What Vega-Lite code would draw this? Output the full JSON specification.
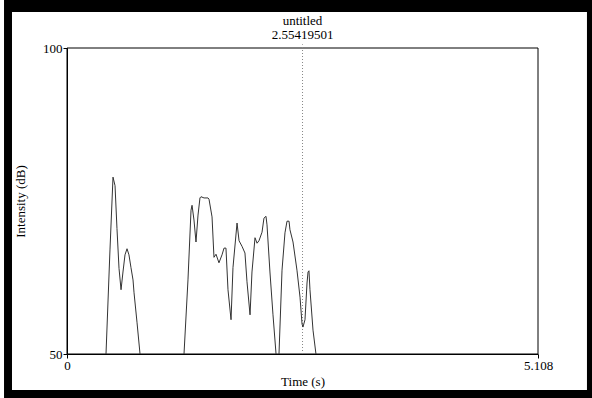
{
  "$schema": "https://vega.github.io/schema/vega-lite/v6.json",
  "width": 471,
  "height": 306,
  "autosize": "none",
  "padding": {"left": 67, "top": 48, "right": 54, "bottom": 44},
  "background": "white",
  "config": {
    "view": {"stroke": null},
    "axis": {
      "zindex": 1,
      "labelFont": "Liberation Serif",
      "labelFontSize": 13,
      "labelColor": "black",
      "labelFlush": false,
      "titleFont": "Liberation Serif",
      "titleFontSize": 13,
      "titleFontWeight": "normal",
      "titleColor": "black",
      "domainColor": "black",
      "tickColor": "black",
      "tickSize": 4,
      "labelPadding": 1,
      "grid": false
    }
  },
  "datasets": {
    "intensity": [
      {"seg": 1, "t": 0.423, "db": 50.0},
      {"seg": 1, "t": 0.466, "db": 67.0},
      {"seg": 1, "t": 0.499, "db": 78.9},
      {"seg": 1, "t": 0.521, "db": 77.5},
      {"seg": 1, "t": 0.542, "db": 70.5},
      {"seg": 1, "t": 0.564, "db": 64.0},
      {"seg": 1, "t": 0.586, "db": 60.5},
      {"seg": 1, "t": 0.607, "db": 63.4},
      {"seg": 1, "t": 0.629, "db": 66.2},
      {"seg": 1, "t": 0.651, "db": 67.2},
      {"seg": 1, "t": 0.672, "db": 66.2},
      {"seg": 1, "t": 0.694, "db": 64.1},
      {"seg": 1, "t": 0.716, "db": 62.1},
      {"seg": 1, "t": 0.727, "db": 60.0},
      {"seg": 1, "t": 0.759, "db": 55.2},
      {"seg": 1, "t": 0.792, "db": 50.0},
      {"seg": 2, "t": 1.269, "db": 50.0},
      {"seg": 2, "t": 1.312, "db": 62.1},
      {"seg": 2, "t": 1.345, "db": 73.5},
      {"seg": 2, "t": 1.356, "db": 74.3},
      {"seg": 2, "t": 1.377, "db": 71.9},
      {"seg": 2, "t": 1.399, "db": 68.3},
      {"seg": 2, "t": 1.421, "db": 72.7},
      {"seg": 2, "t": 1.442, "db": 75.5},
      {"seg": 2, "t": 1.453, "db": 75.7},
      {"seg": 2, "t": 1.486, "db": 75.5},
      {"seg": 2, "t": 1.529, "db": 75.5},
      {"seg": 2, "t": 1.540, "db": 75.3},
      {"seg": 2, "t": 1.573, "db": 72.4},
      {"seg": 2, "t": 1.594, "db": 65.8},
      {"seg": 2, "t": 1.616, "db": 66.3},
      {"seg": 2, "t": 1.648, "db": 64.9},
      {"seg": 2, "t": 1.681, "db": 66.2},
      {"seg": 2, "t": 1.703, "db": 67.3},
      {"seg": 2, "t": 1.724, "db": 67.3},
      {"seg": 2, "t": 1.746, "db": 60.5},
      {"seg": 2, "t": 1.779, "db": 55.6},
      {"seg": 2, "t": 1.800, "db": 64.1},
      {"seg": 2, "t": 1.844, "db": 71.4},
      {"seg": 2, "t": 1.866, "db": 68.5},
      {"seg": 2, "t": 1.898, "db": 67.6},
      {"seg": 2, "t": 1.930, "db": 66.5},
      {"seg": 2, "t": 1.952, "db": 61.8},
      {"seg": 2, "t": 1.985, "db": 56.4},
      {"seg": 2, "t": 2.006, "db": 63.4},
      {"seg": 2, "t": 2.039, "db": 69.0},
      {"seg": 2, "t": 2.061, "db": 68.1},
      {"seg": 2, "t": 2.082, "db": 68.5},
      {"seg": 2, "t": 2.115, "db": 69.9},
      {"seg": 2, "t": 2.136, "db": 72.2},
      {"seg": 2, "t": 2.158, "db": 72.5},
      {"seg": 2, "t": 2.169, "db": 71.1},
      {"seg": 2, "t": 2.201, "db": 63.4},
      {"seg": 2, "t": 2.234, "db": 56.4},
      {"seg": 2, "t": 2.267, "db": 50.0},
      {"seg": 3, "t": 2.299, "db": 50.0},
      {"seg": 3, "t": 2.332, "db": 63.7},
      {"seg": 3, "t": 2.364, "db": 69.8},
      {"seg": 3, "t": 2.386, "db": 71.7},
      {"seg": 3, "t": 2.408, "db": 71.7},
      {"seg": 3, "t": 2.418, "db": 70.3},
      {"seg": 3, "t": 2.451, "db": 68.3},
      {"seg": 3, "t": 2.494, "db": 63.7},
      {"seg": 3, "t": 2.527, "db": 59.3},
      {"seg": 3, "t": 2.549, "db": 54.9},
      {"seg": 3, "t": 2.559, "db": 54.4},
      {"seg": 3, "t": 2.581, "db": 55.6},
      {"seg": 3, "t": 2.603, "db": 61.6},
      {"seg": 3, "t": 2.614, "db": 63.4},
      {"seg": 3, "t": 2.624, "db": 63.6},
      {"seg": 3, "t": 2.635, "db": 60.5},
      {"seg": 3, "t": 2.668, "db": 53.9},
      {"seg": 3, "t": 2.700, "db": 50.0}
    ],
    "titles": [
      {"label": "untitled", "t": 2.554, "db": 103.76},
      {"label": "2.55419501", "t": 2.554, "db": 101.47}
    ]
  },
  "layer": [
    {
      "data": {"values": [{}]},
      "mark": {"type": "rect", "fill": "black", "clip": false},
      "encoding": {
        "x": {"datum": -0.683, "type": "quantitative", "scale": {"domain": [0, 5.108], "nice": false, "zero": false},
          "axis": {"values": [0, 5.108], "format": ".4~g", "title": "Time (s)", "titlePadding": 3, "zindex": 2}},
        "x2": {"datum": 5.8},
        "y": {"datum": 109.5, "type": "quantitative", "scale": {"domain": [50, 100], "nice": false, "zero": false},
          "axis": {"values": [50, 100], "title": "Intensity (dB)", "titlePadding": 15, "zindex": 2}},
        "y2": {"datum": 40.8}
      }
    },
    {
      "data": {"values": [{}]},
      "mark": {"type": "rect", "fill": "white", "clip": false},
      "encoding": {
        "x": {"datum": -0.5965, "type": "quantitative", "scale": {"domain": [0, 5.108], "nice": false, "zero": false},
          "axis": {"values": [0, 5.108], "format": ".4~g", "title": "Time (s)", "titlePadding": 3, "zindex": 2}},
        "x2": {"datum": 5.639},
        "y": {"datum": 105.88, "type": "quantitative", "scale": {"domain": [50, 100], "nice": false, "zero": false},
          "axis": {"values": [50, 100], "title": "Intensity (dB)", "titlePadding": 15, "zindex": 2}},
        "y2": {"datum": 44.12}
      }
    },
    {
      "data": {"values": [{}]},
      "mark": {"type": "rect", "fill": null, "fillOpacity": 0, "stroke": "black", "strokeWidth": 1, "clip": false},
      "encoding": {
        "x": {"datum": 0, "type": "quantitative", "scale": {"domain": [0, 5.108], "nice": false, "zero": false},
          "axis": {"values": [0, 5.108], "format": ".4~g", "title": "Time (s)", "titlePadding": 3, "zindex": 2}},
        "x2": {"datum": 5.108},
        "y": {"datum": 50, "type": "quantitative", "scale": {"domain": [50, 100], "nice": false, "zero": false},
          "axis": {"values": [50, 100], "title": "Intensity (dB)", "titlePadding": 15, "zindex": 2}},
        "y2": {"datum": 100}
      }
    },
    {
      "data": {"values": [{}]},
      "mark": {"type": "rule", "color": "#888888", "strokeWidth": 1, "strokeDash": [1, 2], "clip": false},
      "encoding": {
        "x": {"datum": 2.55419501, "type": "quantitative", "scale": {"domain": [0, 5.108], "nice": false, "zero": false},
          "axis": {"values": [0, 5.108], "format": ".4~g", "title": "Time (s)", "titlePadding": 3, "zindex": 2}},
        "y": {"datum": 50, "type": "quantitative", "scale": {"domain": [50, 100], "nice": false, "zero": false},
          "axis": {"values": [50, 100], "title": "Intensity (dB)", "titlePadding": 15, "zindex": 2}},
        "y2": {"datum": 100.6}
      }
    },
    {
      "data": {"name": "titles"},
      "mark": {"type": "text", "font": "Liberation Serif", "fontSize": 13, "color": "black", "baseline": "alphabetic", "align": "center", "clip": false},
      "encoding": {
        "x": {"field": "t", "type": "quantitative", "scale": {"domain": [0, 5.108], "nice": false, "zero": false},
          "axis": {"values": [0, 5.108], "format": ".4~g", "title": "Time (s)", "titlePadding": 3, "zindex": 2}},
        "y": {"field": "db", "type": "quantitative", "scale": {"domain": [50, 100], "nice": false, "zero": false},
          "axis": {"values": [50, 100], "title": "Intensity (dB)", "titlePadding": 15, "zindex": 2}},
        "text": {"field": "label", "type": "nominal"}
      }
    },
    {
      "data": {"name": "intensity"},
      "mark": {"type": "line", "color": "#333333", "strokeWidth": 1, "clip": true},
      "encoding": {
        "x": {
          "field": "t", "type": "quantitative",
          "scale": {"domain": [0, 5.108], "nice": false, "zero": false},
          "axis": {"values": [0, 5.108], "format": ".4~g", "title": "Time (s)", "titlePadding": 3, "zindex": 2}
        },
        "y": {
          "field": "db", "type": "quantitative",
          "scale": {"domain": [50, 100], "nice": false, "zero": false},
          "axis": {"values": [50, 100], "title": "Intensity (dB)", "titlePadding": 15, "zindex": 2}
        },
        "detail": {"field": "seg", "type": "nominal"}
      }
    }
  ]
}
